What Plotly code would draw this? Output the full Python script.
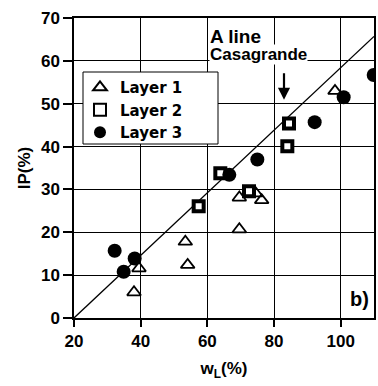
import plotly.graph_objects as go

# Layer data (wL %, IP %)
layer1_wl = [38.0, 39.5, 53.4, 54.1, 69.6, 69.6, 74.5, 76.3, 98.3]
layer1_ip = [6.0, 11.6, 17.8, 12.4, 20.7, 28.1, 29.1, 27.5, 53.0]

layer2_wl = [57.4, 63.9, 72.5, 84.0, 84.5]
layer2_ip = [26.1, 33.8, 29.6, 40.1, 45.4]

layer3_wl = [32.2, 34.9, 38.2, 66.6, 75.0, 92.2, 100.9, 109.9]
layer3_ip = [15.7, 10.8, 13.9, 33.4, 37.0, 45.7, 51.5, 56.7]

# Casagrande A line: IP = 0.73 (wL - 20)
aline_wl = [20, 110]
aline_ip = [0.73 * (w - 20) for w in aline_wl]

x_ticks = [20, 40, 60, 80, 100]
y_ticks = [0, 10, 20, 30, 40, 50, 60, 70]

fig = go.Figure()
fig.add_trace(go.Scatter(x=aline_wl, y=aline_ip, mode="lines",
                         line=dict(color="black", width=1.3), showlegend=False,
                         hoverinfo="skip"))
fig.add_trace(go.Scatter(x=layer1_wl, y=layer1_ip, mode="markers", name="<b>Layer 1</b>",
                         marker=dict(symbol="triangle-up-open", size=12, color="black",
                                     line=dict(width=1.8, color="black"))))
fig.add_trace(go.Scatter(x=layer2_wl, y=layer2_ip, mode="markers", name="<b>Layer 2</b>",
                         marker=dict(symbol="square", size=10, color="white",
                                     line=dict(width=4, color="black"))))
fig.add_trace(go.Scatter(x=layer3_wl, y=layer3_ip, mode="markers", name="<b>Layer 3</b>",
                         marker=dict(symbol="circle", size=14, color="black")))

tick_font = dict(family="Liberation Sans", size=17, color="black")
lab_font = "Liberation Sans"

fig.update_layout(
    width=378, height=386,
    margin=dict(l=74, r=2, t=18, b=68),
    paper_bgcolor="white", plot_bgcolor="white",
    showlegend=True,
    legend=dict(x=0.02, y=0.823, xanchor="left", yanchor="top",
                bgcolor="rgba(0,0,0,0)", borderwidth=0,
                font=dict(family="DejaVu Sans", size=15, color="black"),
                itemsizing="constant", tracegroupgap=0, itemwidth=30),
    xaxis=dict(range=[20, 110], tickvals=x_ticks,
               ticktext=["<b>%d</b>" % v for v in x_ticks],
               ticks="outside", ticklen=7,
               tickcolor="black", tickwidth=1.5, showgrid=True, gridcolor="black",
               gridwidth=1, showline=True, linecolor="black", linewidth=1.5,
               mirror=True, zeroline=False, tickfont=tick_font,
               title=dict(text="<b>w<sub>L</sub>(%)</b>",
                          font=dict(family="Liberation Sans", size=17, color="black"),
                          standoff=12)),
    yaxis=dict(range=[0, 70], tickvals=y_ticks,
               ticktext=["<b>%d</b>" % v for v in y_ticks],
               ticks="outside", ticklen=9,
               tickcolor="black", tickwidth=1.5, showgrid=True, gridcolor="black",
               gridwidth=1, showline=True, linecolor="black", linewidth=1.5,
               mirror=True, zeroline=False, tickfont=tick_font,
               title=dict(text="<b>IP(%)</b>",
                          font=dict(family="Liberation Sans", size=17, color="black"),
                          standoff=6)),
)

# legend frame
fig.add_shape(type="rect", xref="paper", yref="paper", x0=0.03, x1=0.48, y0=0.58, y1=0.82,
              fillcolor="white", line=dict(color="black", width=1), layer="above")

fig.add_annotation(x=60.6, y=65.8, xref="x", yref="y", text="<b>A line</b>",
                   showarrow=False, xanchor="left", yanchor="middle",
                   font=dict(family=lab_font, size=19, color="black"), bgcolor="white",
                   borderpad=0)
fig.add_annotation(x=60.6, y=61.6, xref="x", yref="y", text="<b>Casagrande</b>",
                   showarrow=False, xanchor="left", yanchor="middle",
                   font=dict(family=lab_font, size=17, color="black"), bgcolor="white",
                   borderpad=0)
fig.add_annotation(x=83, y=50.9, xref="x", yref="y", ax=0, ay=-28, text="",
                   showarrow=True, arrowhead=2, arrowsize=1.1, arrowwidth=2.2,
                   arrowcolor="black")
fig.add_annotation(x=0.99, y=0.02, xref="paper", yref="paper", text="<b>b)</b>",
                   showarrow=False, xanchor="right", yanchor="bottom",
                   font=dict(family=lab_font, size=20, color="black"), bgcolor="white")

fig.write_html("out.html")
